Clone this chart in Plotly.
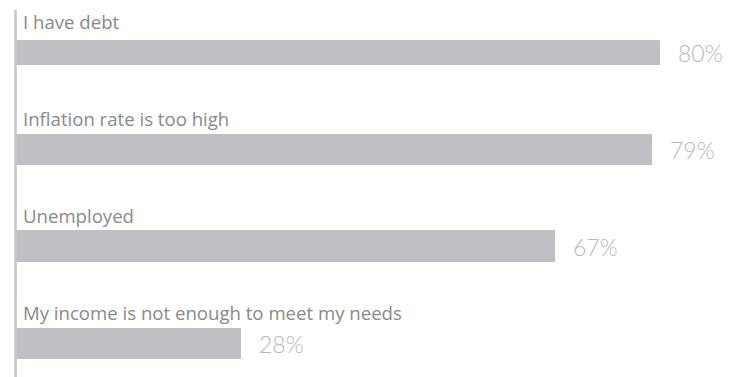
import plotly.graph_objects as go

# Survey reasons and the share of respondents citing each
categories = [
    "I have debt",
    "Inflation rate is too high",
    "Unemployed",
    "My income is not enough to meet my needs",
]
shares = [80, 79, 67, 28]
share_labels = ["80%", "79%", "67%", "28%"]

# bar thickness per row (in category units)
bar_widths = [0.26, 0.32, 0.33, 0.32]

BAR_COLOR = "#bfc0c4"
CAT_COLOR = "#8a8a8a"
PCT_COLOR = "#b8b8b8"

fig = go.Figure(
    go.Bar(
        x=shares,
        y=categories,
        orientation="h",
        width=bar_widths,
        marker=dict(color=BAR_COLOR, line=dict(width=0)),
        hoverinfo="skip",
    )
)

annotations = []
for cat, val, lab in zip(categories, shares, share_labels):
    # category name sits above its bar
    annotations.append(dict(
        x=0, y=cat, xref="x", yref="y",
        text=cat, showarrow=False,
        xanchor="left", yanchor="middle",
        xshift=5, yshift=31,
        font=dict(family="Open Sans", size=18.6, color=CAT_COLOR),
    ))
    # percentage to the right of the bar end
    annotations.append(dict(
        x=val, y=cat, xref="x", yref="y",
        text=lab, showarrow=False,
        xanchor="left", yanchor="middle",
        xshift=16, yshift=-1,
        font=dict(family="Lato", size=23, color=PCT_COLOR, weight=300),
    ))

fig.update_layout(
    width=737, height=377,
    margin=dict(l=14, r=0, t=0, b=0),
    paper_bgcolor="white", plot_bgcolor="white",
    showlegend=False,
    bargap=0,
    xaxis=dict(range=[-0.25, 89.56], visible=False, fixedrange=True),
    yaxis=dict(
        type="category",
        categoryorder="array",
        categoryarray=categories,
        range=[3.346, -0.541],
        visible=False,
        fixedrange=True,
    ),
    annotations=annotations,
    shapes=[dict(
        type="line", xref="x", yref="paper",
        x0=-0.06, x1=-0.06, y0=0, y1=1 - 10 / 377,
        line=dict(color="#c6c6c6", width=2.5),
    )],
)

fig.write_html("out.html", config={"displayModeBar": False})
